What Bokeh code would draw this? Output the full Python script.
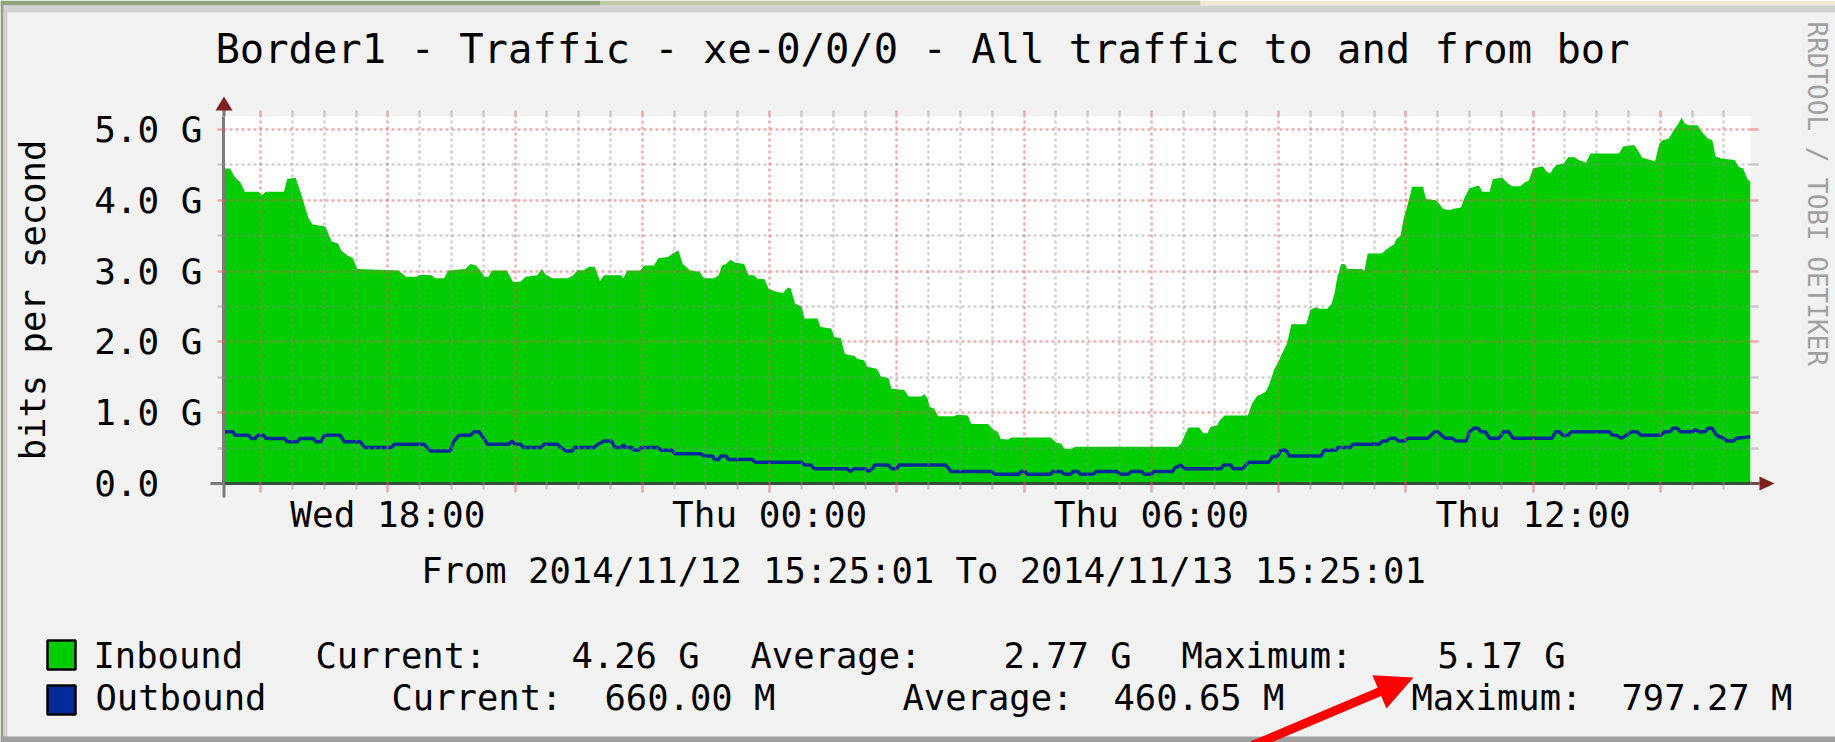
import datetime as dt
import math
from bokeh.plotting import figure
from bokeh.models import (Range1d, DatetimeAxis, LinearAxis, FixedTicker, Grid, Column)
from bokeh.core.properties import value
from bokeh.embed import file_html
from bokeh.resources import INLINE

# ---------------- data ----------------
TITLE = "Border1 - Traffic - xe-0/0/0 - All traffic to and from bor"
PERIOD = "From 2014/11/12 15:25:01 To 2014/11/13 15:25:01"
WATERMARK = "RRDTOOL / TOBI OETIKER"
Y_LABEL = "bits per second"
START = dt.datetime(2014, 11, 12, 15, 25, 1)
END = dt.datetime(2014, 11, 13, 15, 25, 1)

# minutes after START, inbound traffic in Gbit/s
in_minutes = [0, 6, 11, 16, 20, 33, 36, 40, 57, 60, 68, 73, 80, 84, 96, 102, 108, 111, 117, 122,
              126, 165, 172, 182, 186, 196, 200, 208, 212, 228, 233, 238, 242, 246, 250, 253,
              267, 273, 280, 285, 296, 300, 304, 310, 325, 330, 334, 339, 345, 350, 355, 359,
              365, 375, 377, 381, 393, 397, 406, 410, 419, 425, 429, 433, 440, 449, 453, 463,
              467, 470, 474, 478, 482, 491, 495, 500, 504, 510, 514, 521, 528, 532, 535, 539,
              545, 548, 560, 563, 573, 576, 582, 586, 595, 598, 604, 607, 616, 620, 627, 630,
              642, 646, 658, 661, 664, 666, 670, 674, 689, 692, 702, 705, 721, 726, 730, 733,
              740, 743, 780, 785, 790, 793, 800, 803, 900, 903, 907, 910, 920, 924, 928, 931,
              937, 940, 944, 966, 970, 975, 979, 983, 986, 991, 994, 998, 1003, 1007, 1021,
              1025, 1030, 1033, 1041, 1045, 1048, 1050, 1054, 1057, 1060, 1073, 1076, 1079,
              1092, 1096, 1100, 1104, 1106, 1110, 1113, 1116, 1121, 1131, 1134, 1143, 1146,
              1150, 1156, 1160, 1167, 1170, 1175, 1184, 1187, 1194, 1197, 1206, 1211, 1215,
              1223, 1227, 1231, 1235, 1244, 1248, 1251, 1254, 1257, 1264, 1268, 1274, 1278,
              1282, 1285, 1289, 1316, 1320, 1330, 1333, 1338, 1346, 1350, 1354, 1357, 1363,
              1368, 1372, 1375, 1378, 1382, 1390, 1394, 1400, 1404, 1407, 1412, 1425, 1429,
              1433, 1437, 1440]
in_gbps = [4.45, 4.45, 4.32, 4.25, 4.12, 4.12, 4.07, 4.12, 4.12, 4.30, 4.32, 4.10, 3.75, 3.66, 3.63,
           3.42, 3.39, 3.29, 3.22, 3.18, 3.03, 3.01, 2.92, 2.92, 2.95, 2.94, 2.90, 2.90, 3.01,
           3.03, 3.10, 3.08, 3.01, 2.92, 2.92, 3.01, 3.01, 2.85, 2.85, 2.92, 2.94, 3.03, 2.95,
           2.90, 2.90, 2.94, 3.02, 3.01, 3.06, 3.06, 2.86, 2.94, 2.94, 2.94, 2.90, 3.01, 3.01,
           3.08, 3.08, 3.18, 3.20, 3.26, 3.29, 3.10, 3.01, 2.99, 2.90, 2.90, 2.94, 3.08, 3.10,
           3.16, 3.12, 3.10, 2.94, 2.94, 2.89, 2.89, 2.75, 2.71, 2.69, 2.77, 2.75, 2.54, 2.50,
           2.33, 2.33, 2.21, 2.19, 2.07, 2.05, 1.83, 1.80, 1.76, 1.74, 1.65, 1.62, 1.51, 1.49,
           1.34, 1.32, 1.23, 1.23, 1.26, 1.20, 1.08, 1.06, 0.95, 0.95, 0.97, 0.96, 0.84, 0.84,
           0.76, 0.73, 0.63, 0.62, 0.65, 0.65, 0.58, 0.56, 0.49, 0.49, 0.52, 0.52, 0.56, 0.70,
           0.79, 0.79, 0.71, 0.71, 0.80, 0.82, 0.90, 0.96, 0.96, 1.13, 1.24, 1.26, 1.30, 1.39,
           1.62, 1.69, 1.83, 1.98, 2.25, 2.25, 2.45, 2.49, 2.47, 2.47, 2.54, 2.70, 2.89, 3.10,
           3.10, 3.03, 3.03, 3.01, 3.25, 3.25, 3.30, 3.34, 3.38, 3.45, 3.50, 3.75, 3.90, 4.19,
           4.19, 4.02, 4.00, 3.96, 3.88, 3.86, 3.88, 3.90, 4.03, 4.17, 4.21, 4.12, 4.12, 4.30,
           4.32, 4.24, 4.20, 4.20, 4.25, 4.28, 4.45, 4.48, 4.40, 4.38, 4.45, 4.50, 4.52, 4.61,
           4.61, 4.57, 4.55, 4.53, 4.66, 4.66, 4.76, 4.78, 4.72, 4.60, 4.57, 4.55, 4.80, 4.85,
           4.87, 5.00, 5.08, 5.17, 5.08, 5.06, 5.06, 4.97, 4.87, 4.85, 4.62, 4.59, 4.57, 4.47,
           4.45, 4.30, 4.26]

# minutes after START, outbound traffic in Gbit/s
out_minutes = [0, 9, 11, 24, 26, 30, 32, 38, 40, 58, 60, 70, 72, 85, 87, 92, 95, 110, 114, 129,
               133, 159, 161, 189, 192, 195, 214, 217, 222, 233, 236, 241, 246, 249, 269, 272,
               275, 280, 283, 300, 302, 315, 318, 323, 329, 331, 350, 353, 359, 366, 369, 376,
               377, 379, 385, 387, 391, 394, 409, 413, 423, 426, 450, 453, 461, 463, 467, 469,
               474, 476, 499, 501, 545, 548, 554, 557, 588, 591, 595, 605, 608, 612, 614, 627,
               630, 635, 637, 681, 684, 686, 725, 727, 750, 752, 756, 758, 780, 782, 790, 793,
               799, 801, 806, 808, 820, 823, 843, 846, 853, 856, 866, 868, 875, 877, 895, 897,
               903, 906, 941, 943, 950, 952, 961, 964, 967, 986, 989, 994, 997, 1002, 1005,
               1035, 1038, 1049, 1051, 1063, 1065, 1090, 1093, 1097, 1100, 1105, 1108, 1114,
               1117, 1136, 1142, 1145, 1149, 1152, 1159, 1162, 1172, 1175, 1179, 1183, 1186,
               1190, 1194, 1203, 1207, 1212, 1216, 1253, 1256, 1260, 1263, 1268, 1271, 1307,
               1310, 1314, 1318, 1323, 1328, 1333, 1337, 1355, 1359, 1364, 1367, 1371, 1374,
               1385, 1388, 1392, 1397, 1400, 1404, 1408, 1414, 1418, 1424, 1427, 1440]
out_gbps = [0.73, 0.73, 0.68, 0.68, 0.635, 0.635, 0.68, 0.68, 0.635, 0.635, 0.59, 0.59, 0.635,
            0.635, 0.59, 0.59, 0.68, 0.68, 0.59, 0.59, 0.51, 0.51, 0.555, 0.555, 0.51, 0.46,
            0.46, 0.59, 0.68, 0.68, 0.73, 0.73, 0.62, 0.555, 0.555, 0.60, 0.555, 0.555, 0.51,
            0.51, 0.555, 0.555, 0.51, 0.46, 0.46, 0.51, 0.51, 0.555, 0.60, 0.60, 0.51, 0.51,
            0.55, 0.51, 0.51, 0.47, 0.47, 0.51, 0.51, 0.47, 0.47, 0.42, 0.42, 0.39, 0.39, 0.34,
            0.34, 0.39, 0.39, 0.34, 0.34, 0.30, 0.30, 0.26, 0.26, 0.21, 0.21, 0.17, 0.21, 0.21,
            0.17, 0.21, 0.26, 0.26, 0.21, 0.21, 0.26, 0.26, 0.21, 0.17, 0.17, 0.13, 0.13, 0.17,
            0.17, 0.13, 0.13, 0.17, 0.17, 0.13, 0.13, 0.17, 0.17, 0.13, 0.13, 0.17, 0.17, 0.13,
            0.13, 0.17, 0.17, 0.13, 0.13, 0.17, 0.17, 0.22, 0.26, 0.21, 0.21, 0.26, 0.26, 0.21,
            0.21, 0.26, 0.30, 0.30, 0.38, 0.38, 0.47, 0.47, 0.39, 0.39, 0.47, 0.47, 0.51, 0.51,
            0.555, 0.555, 0.60, 0.60, 0.64, 0.64, 0.60, 0.60, 0.64, 0.64, 0.73, 0.73, 0.68, 0.64,
            0.64, 0.60, 0.60, 0.73, 0.78, 0.78, 0.73, 0.73, 0.64, 0.64, 0.73, 0.73, 0.64, 0.64,
            0.73, 0.73, 0.68, 0.68, 0.73, 0.73, 0.68, 0.68, 0.64, 0.68, 0.73, 0.73, 0.68, 0.68,
            0.73, 0.73, 0.78, 0.78, 0.73, 0.73, 0.76, 0.73, 0.73, 0.78, 0.78, 0.68, 0.64, 0.60,
            0.60, 0.64, 0.66]

Y_TICK_VALUES = [0, 1e9, 2e9, 3e9, 4e9, 5e9]
Y_TICK_LABELS = ["0.0\u00a0\u00a0", "1.0 G", "2.0 G", "3.0 G", "4.0 G", "5.0 G"]
Y_MINOR_VALUES = [0.5e9, 1.5e9, 2.5e9, 3.5e9, 4.5e9]
Y_MAX = 5.184e9

X_TICK_TIMES = [dt.datetime(2014, 11, 12, 18), dt.datetime(2014, 11, 13, 0),
                dt.datetime(2014, 11, 13, 6), dt.datetime(2014, 11, 13, 12)]
X_TICK_LABELS = ["Wed 18:00", "Thu 00:00", "Thu 06:00", "Thu 12:00"]

SERIES_NAMES = ["Inbound", "Outbound"]
SERIES_COLORS = ["#00CC00", "#002A97"]
STAT_NAMES = ["Current:", "Average:", "Maximum:"]
INBOUND_STATS = ["4.26 G", "2.77 G", "5.17 G"]
OUTBOUND_STATS = ["660.00 M", "460.65 M", "797.27 M"]

# ---------------- layout / style ----------------
W, H = 1835, 742
FL, FR, FT, FB = 223, 85, 116, 259        # frame borders of the chart
MONO = "DejaVu Sans Mono"
FS = "36px"
FS_TXT = "35.5px"
BG = "#F2F2F2"
EPOCH = dt.datetime(1970, 1, 1)


def ms(d):
    return (d - EPOCH).total_seconds() * 1000.0


in_x = [START + dt.timedelta(minutes=m) for m in in_minutes]
out_x = [START + dt.timedelta(minutes=m) for m in out_minutes]
in_y = [v * 1e9 for v in in_gbps]
out_y = [v * 1e9 for v in out_gbps]

# ================= chart figure =================
p = figure(width=W, height=H, output_backend="svg", toolbar_location=None,
           x_axis_type=None, y_axis_type=None,
           x_range=Range1d(START, END), y_range=Range1d(0, Y_MAX),
           min_border_left=FL, min_border_right=FR, min_border_top=FT, min_border_bottom=FB,
           background_fill_color="white", border_fill_color=BG, outline_line_color=None)

p.varea(x=in_x, y1=[0] * len(in_x), y2=in_y, fill_color=SERIES_COLORS[0])
p.line(x=out_x, y=out_y, line_color=SERIES_COLORS[1], line_width=3.5)

two_h = dt.timedelta(hours=2)
x_major = [ms(dt.datetime(2014, 11, 12, 16) + i * two_h) for i in range(12)]
half_h = dt.timedelta(minutes=30)
x_minor = []
t = dt.datetime(2014, 11, 12, 16, 30)
while t < END:
    if ms(t) not in x_major:
        x_minor.append(ms(t))
    t += half_h
xticker = FixedTicker(ticks=x_major, minor_ticks=x_minor)
yticker = FixedTicker(ticks=Y_TICK_VALUES, minor_ticks=Y_MINOR_VALUES)

label_map = {ms(d): s for d, s in zip(X_TICK_TIMES, X_TICK_LABELS)}
x_over = {v: label_map.get(v, "") for v in x_major}
x_blank = {v: "" for v in x_major}
y_over = {float(v): s for v, s in zip(Y_TICK_VALUES, Y_TICK_LABELS)}
y_blank = {float(v): "" for v in Y_TICK_VALUES}

RED, RED_A = "#DE5F5F", 0.5
GRAY, GRAY_A = "#8F8F8F", 0.4


def style_axis(ax, out_major, out_minor):
    ax.axis_line_color = None
    ax.major_tick_in = 0
    ax.minor_tick_in = 0
    ax.major_tick_out = out_major
    ax.minor_tick_out = out_minor
    ax.major_tick_line_color = RED
    ax.major_tick_line_alpha = RED_A
    ax.major_tick_line_width = 2.5
    ax.minor_tick_line_color = GRAY
    ax.minor_tick_line_alpha = GRAY_A
    ax.minor_tick_line_width = 2.5
    ax.major_label_text_font = MONO
    ax.major_label_text_font_size = FS
    ax.major_label_text_color = "black"


xb = DatetimeAxis(ticker=xticker, major_label_overrides=x_over)
style_axis(xb, 9, 6)
xb.axis_line_color = "#35503A"
xb.axis_line_width = 3
xb.major_label_standoff = 1
p.add_layout(xb, "below")

xt = DatetimeAxis(ticker=xticker, major_label_overrides=x_blank)
style_axis(xt, 6, 6)
xt.major_label_text_font_size = "1px"
xt.major_label_standoff = 0
p.add_layout(xt, "above")

yl = LinearAxis(ticker=yticker, major_label_overrides=y_over, axis_label=Y_LABEL)
style_axis(yl, 6, 6)
yl.axis_line_color = "#7A7A7A"
yl.axis_line_width = 3
yl.major_label_standoff = 15
yl.axis_label_text_font = MONO
yl.axis_label_text_font_size = FS_TXT
yl.axis_label_text_font_style = "normal"
yl.axis_label_text_color = "black"
yl.axis_label_standoff = 38
p.add_layout(yl, "left")

yr = LinearAxis(ticker=yticker, major_label_overrides=y_blank)
style_axis(yr, 8, 8)
yr.major_label_text_font_size = "1px"
yr.major_label_standoff = 0
p.add_layout(yr, "right")

grid_style = dict(level="guide",
                  grid_line_color=RED, grid_line_alpha=RED_A, grid_line_width=2.5,
                  grid_line_dash="3 3",
                  minor_grid_line_color=GRAY, minor_grid_line_alpha=GRAY_A,
                  minor_grid_line_width=2.5, minor_grid_line_dash="3 3")
p.add_layout(Grid(dimension=0, ticker=xticker, **grid_style))
p.add_layout(Grid(dimension=1, ticker=yticker, **grid_style))

# ================= overlay figure (pixel space) for texts & decorations =================
q = figure(width=W, height=H, output_backend="svg", toolbar_location=None,
           x_axis_type=None, y_axis_type=None,
           x_range=Range1d(0, W), y_range=Range1d(H, 0),
           min_border=0, background_fill_alpha=0, border_fill_alpha=0,
           outline_line_color=None)


def box(x0, y0, x1, y1, color, line=None, lw=0):
    q.quad(left=[x0], right=[x1], top=[y0], bottom=[y1], fill_color=color,
           line_color=line, line_width=lw)


def shape(pts, color):
    q.patch(x=[a for a, _ in pts], y=[b for _, b in pts], fill_color=color, line_color=None)


# text glyph baseline sits ~0.37 em lower than requested; compensate
def txt(strings, xs, baseline_y, size=35.5, align="left", color="black", angle=0.0,
        baseline="alphabetic", shift=0.37):
    ys = [baseline_y - shift * size] * len(strings)
    q.text(x=xs, y=ys, text=strings, text_font=value(MONO), text_font_size=value(f"{size}px"),
           text_color=color, text_align=align, text_baseline=baseline, angle=angle)


# screenshot window frame
box(0, 0, 600, 5, "#8FA37C")
box(600, 0, 1200, 5, "#BFC7A5")
box(1200, 0, W, 5, "#EDEBD3")
box(0, 5, W, 12, "#D2D2D2")
box(0, 0, 3, H, "#8FA37C")
box(3, 5, 7, H, "#D2D2D2")
box(0, 736, W, H, "#A0A0A0")

# axis extensions and arrow heads
AX_RED = "#7F1F1F"
box(222, 109, 225, 116, "#7A7A7A")
box(222, 483, 225, 497, "#7A7A7A")
shape([(215, 110), (232, 110), (223.5, 96)], AX_RED)
box(210, 481.5, 223, 484.5, "#7A7A7A")
box(1750, 481.5, 1759, 484.5, "#6A4A4A")
shape([(1759, 476), (1759, 490), (1774, 483)], AX_RED)

# titles
txt([TITLE], [922], 63, size=40.5, align="center")
txt([PERIOD], [923], 583, align="center")
txt([WATERMARK], [1816], 21, size=26, color="#A0A0A0", angle=-math.pi / 2,
    baseline="middle", shift=0.0)

# legend swatches and legend texts
box(47, 640, 75, 669, SERIES_COLORS[0], "black", 2.5)
box(47, 685, 75, 714, SERIES_COLORS[1], "black", 2.5)
row1 = [SERIES_NAMES[0], STAT_NAMES[0], INBOUND_STATS[0], STAT_NAMES[1], INBOUND_STATS[1],
        STAT_NAMES[2], INBOUND_STATS[2]]
row2 = [SERIES_NAMES[1], STAT_NAMES[0], OUTBOUND_STATS[0], STAT_NAMES[1], OUTBOUND_STATS[1],
        STAT_NAMES[2], OUTBOUND_STATS[2]]
row1_x = [93, 315, 571, 750, 1003, 1181, 1437]
row2_x = [95, 391, 604, 902, 1113, 1411, 1621]
txt(row1, row1_x, 668)
txt(row2, row2_x, 710)

# red pointer arrow
S = (1252.0, 745.0)
T = (1413.0, 677.0)
dx, dy = T[0] - S[0], T[1] - S[1]
ln = math.hypot(dx, dy)
ux, uy = dx / ln, dy / ln
nx, ny = -uy, ux
B = (T[0] - 37 * ux, T[1] - 37 * uy)
sw, hw = 4.5, 18.0
shape([(S[0] + sw * nx, S[1] + sw * ny), (B[0] + sw * nx, B[1] + sw * ny),
       (B[0] + hw * nx, B[1] + hw * ny), T,
       (B[0] - hw * nx, B[1] - hw * ny), (B[0] - sw * nx, B[1] - sw * ny),
       (S[0] - sw * nx, S[1] - sw * ny)], "#FF0000")

# each figure wrapped on its own, so that their frames are not aligned;
# the overlay is pulled up onto the chart with a negative margin
layout = Column(children=[Column(children=[p]),
                          Column(children=[q], margin=(-H, 0, 0, 0))])
open("out.html", "w").write(file_html(layout, INLINE))
